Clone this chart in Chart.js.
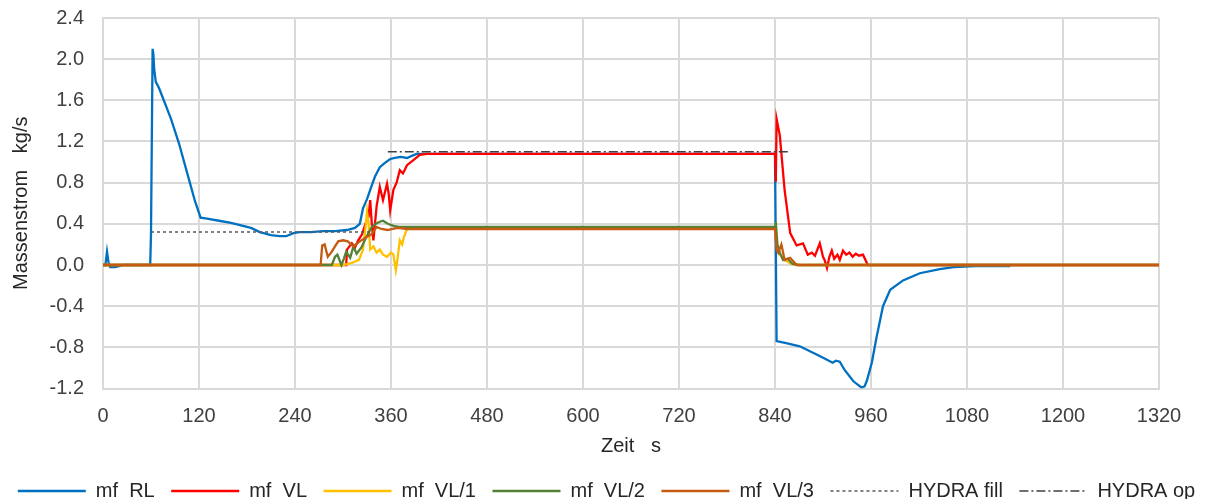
<!DOCTYPE html>
<html><head><meta charset="utf-8">
<script src="https://cdn.jsdelivr.net/npm/chart.js@4/dist/chart.umd.min.js"></script>
<style>html,body{margin:0;padding:0;background:#fff}#wrap{width:1213px;height:499px}</style>
</head><body><div id="wrap"><canvas id="c"></canvas></div>
<script>
const seriesNames = ["mf_RL","mf_VL","mf_VL/1","mf_VL/2","mf_VL/3","HYDRA fill","HYDRA op"];
const xTicks = [0,120,240,360,480,600,720,840,960,1080,1200,1320];
const yTicks = [-1.2,-0.8,-0.4,0.0,0.4,0.8,1.2,1.6,2.0,2.4];

const mfRL = [[0,0],[3,0],[5,0.13],[7,0.02],[9,-0.02],[15,-0.02],[20,-0.01],[25,0],[59,0],[60,0.3],[62,2.10],[63,2.05],[64,1.90],[66,1.78],[70,1.72],[75,1.62],[85,1.42],[95,1.18],[105,0.90],[115,0.62],[122,0.46],[130,0.45],[145,0.43],[160,0.41],[175,0.38],[185,0.36],[196,0.32],[210,0.29],[221,0.28],[229,0.28],[238,0.31],[246,0.32],[260,0.32],[275,0.33],[290,0.33],[305,0.34],[315,0.36],[321,0.40],[325,0.55],[330,0.64],[334,0.73],[340,0.86],[346,0.95],[352,0.99],[359,1.03],[365,1.04],[372,1.05],[380,1.04],[386,1.06],[392,1.08],[400,1.08],[840,1.08],[842,-0.74],[854,-0.76],[871,-0.79],[892,-0.87],[905,-0.92],[912,-0.95],[916,-0.93],[921,-0.94],[927,-1.02],[938,-1.13],[948,-1.19],[952,-1.18],[955,-1.12],[961,-0.95],[967,-0.70],[975,-0.40],[984,-0.24],[1000,-0.15],[1021,-0.08],[1046,-0.04],[1063,-0.02],[1090,-0.01],[1134,-0.01]];
const mfVL = [[0,0],[304,0],[305,0.15],[311,0.21],[315,0.17],[319,0.24],[324,0.30],[328,0.40],[332,0.47],[334,0.63],[336,0.40],[338,0.24],[342,0.57],[346,0.76],[350,0.63],[355,0.79],[357,0.70],[359,0.53],[363,0.73],[367,0.80],[371,0.92],[375,0.89],[380,0.97],[388,1.02],[396,1.07],[405,1.08],[840,1.08],[841,0.81],[842,1.42],[846,1.26],[852,0.73],[859,0.31],[867,0.19],[875,0.21],[881,0.10],[886,0.12],[890,0.09],[896,0.21],[900,0.08],[902,0.05],[905,-0.03],[908,0.08],[911,0.14],[914,0.06],[918,0.10],[921,0.05],[925,0.14],[929,0.10],[933,0.12],[937,0.08],[941,0.11],[945,0.09],[950,0.10],[956,0.0],[1320,0]];
const mfVL1 = [[0,0],[300,0],[311,0.02],[320,0.05],[325,0.15],[328,0.35],[330,0.52],[332,0.40],[334,0.15],[338,0.18],[342,0.12],[346,0.15],[350,0.10],[355,0.08],[360,0.12],[363,0.10],[366,-0.05],[368,0.05],[371,0.24],[374,0.20],[376,0.27],[380,0.35],[385,0.36],[840,0.36],[842,0.20],[846,0.10],[852,0.05],[860,0.01],[870,0],[1320,0]];
const mfVL2 = [[0,0],[286,0],[290,0.08],[293,0.10],[298,0.0],[301,0.06],[304,0.13],[309,0.07],[313,0.18],[317,0.11],[323,0.17],[329,0.27],[336,0.37],[341,0.40],[346,0.42],[350,0.43],[356,0.40],[363,0.38],[370,0.37],[840,0.37],[841,0.42],[843,0.20],[846,0.12],[850,0.05],[856,0.06],[862,0.01],[870,0],[1320,0]];
const mfVL3 = [[0,0],[272,0],[274,0.19],[277,0.20],[281,0.08],[286,0.13],[290,0.18],[294,0.23],[300,0.24],[306,0.23],[313,0.18],[321,0.23],[329,0.27],[336,0.30],[342,0.37],[348,0.35],[356,0.34],[362,0.35],[369,0.36],[380,0.35],[840,0.35],[842,0.15],[844,0.12],[848,0.20],[852,0.05],[859,0.07],[867,0.0],[1320,0]];
const hydraFill = [[60,0.32],[335,0.32]];
const hydraOp = [[356,1.10],[859,1.10]];

const FONT = "'Liberation Sans', Arial, sans-serif";
const toPts = a => a.map(p => ({x:p[0], y:p[1]}));
function ds(i, data, color, opts) {
  return Object.assign({label: seriesNames[i], data: toPts(data), borderColor: color, backgroundColor: color,
    borderWidth: 2.3, pointRadius: 0, pointStyle: 'line', tension: 0, order: 7 - i}, opts || {});
}
const datasets = [
  ds(0, mfRL, '#0070C0'),
  ds(1, mfVL, '#FF0000'),
  ds(2, mfVL1, '#FFC000'),
  ds(3, mfVL2, '#548235'),
  ds(4, mfVL3, '#C55A11'),
  ds(5, hydraFill, '#595959', {borderWidth: 1.5, borderDash: [3,3]}),
  ds(6, hydraOp, '#404040', {borderWidth: 1.5, borderDash: [9,3,2,3]})
];

new Chart(document.getElementById('c'), {
  type: 'line',
  data: {datasets},
  options: {
    responsive: true, maintainAspectRatio: false, animation: false,
    layout: {padding: {left: 0, right: 0, top: 4, bottom: -12}},
    plugins: {
      tooltip: {enabled: false},
      legend: {position: 'bottom',
        labels: {usePointStyle: true, pointStyleWidth: 68, boxHeight: 10, padding: 16.5, color: '#262626',
          font: {family: FONT, size: 20},
          sort: (a, b) => a.datasetIndex - b.datasetIndex,
          generateLabels: (chart) => {
            const items = Chart.defaults.plugins.legend.labels.generateLabels(chart);
            items.forEach(it => {
              const d = chart.data.datasets[it.datasetIndex];
              it.lineDash = d.borderDash || [];
              it.strokeStyle = d.borderColor;
              it.lineWidth = d.borderWidth;
              it.pointStyle = 'line';
            });
            return items;
          }}}
    },
    scales: {
      x: {type: 'linear', min: 0, max: 1320,
        afterBuildTicks: s => { s.ticks = xTicks.map(v => ({value: v})); },
        ticks: {color: '#404040', font: {family: FONT, size: 20}, padding: 16, maxRotation: 0, callback: v => String(v)},
        grid: {color: '#d9d9d9', lineWidth: 2, drawTicks: false},
        border: {color: '#d9d9d9', width: 2},
        title: {display: true, text: 'Zeit   s', color: '#262626', font: {family: FONT, size: 20}, padding: {top: 4, bottom: 6}},
        afterFit: s => { s.height = 76; }
      },
      y: {min: -1.2, max: 2.4,
        afterBuildTicks: s => { s.ticks = yTicks.map(v => ({value: v})); },
        ticks: {color: '#404040', font: {family: FONT, size: 20}, padding: 6, callback: v => Number(v).toFixed(1)},
        grid: {color: '#d9d9d9', lineWidth: 2, drawTicks: true, tickLength: 13, tickColor: 'rgba(0,0,0,0)'},
        border: {color: '#d9d9d9', width: 2},
        title: {display: true, text: 'Massenstrom   kg/s', color: '#262626', font: {family: FONT, size: 20}, padding: {top: 9, bottom: 0}},
        afterFit: s => { s.width = 103; }
      },
      yR: {position: 'right', display: true, min: 0, max: 1,
        ticks: {display: false}, grid: {display: false}, border: {display: false},
        afterFit: s => { s.width = 54; }
      }
    }
  }
});
</script></body></html>
